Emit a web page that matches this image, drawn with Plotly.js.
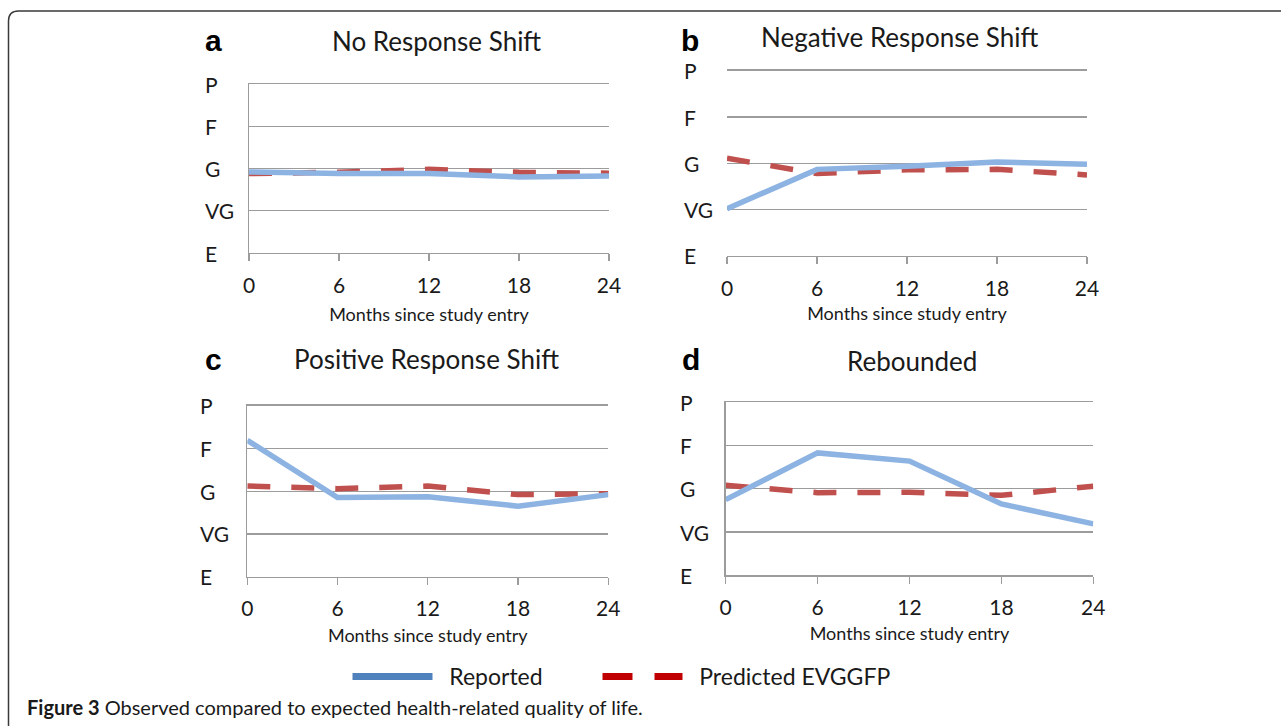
<!DOCTYPE html>
<html><head><meta charset="utf-8">
<script src="https://cdn.plot.ly/plotly-3.0.1.min.js"></script>
<style>html,body{margin:0;padding:0;background:#fff;} #chart{width:1281px;height:726px;}</style>
</head><body><div id="chart"></div>
<script>
// ---- data ----
const months = [0, 6, 12, 18, 24];
const ratingLabels = ['E', 'VG', 'G', 'F', 'P'];
const ratingValues = [1, 2, 3, 4, 5];
const panelTitles = ['No Response Shift', 'Negative Response Shift', 'Positive Response Shift', 'Rebounded'];
const panelLetters = ['a', 'b', 'c', 'd'];
const seriesNames = ['Reported', 'Predicted EVGGFP'];
const reportedA = [2.92, 2.88, 2.88, 2.80, 2.82];
const predictedA = [2.88, 2.91, 2.98, 2.91, 2.89];
const reportedB = [2.02, 2.87, 2.94, 3.03, 2.98];
const predictedB = [3.11, 2.78, 2.86, 2.87, 2.75];
const reportedC = [4.19, 2.85, 2.87, 2.65, 2.92];
const predictedC = [3.12, 3.06, 3.12, 2.92, 2.94];
const reportedD = [2.75, 3.83, 3.64, 2.65, 2.19];
const predictedD = [3.08, 2.91, 2.92, 2.85, 3.06];
const xAxisTitle = 'Months since study entry';
const captionBold = 'Figure 3';
const captionText = ' Observed compared to expected health-related quality of life.';

// ---- layout helpers ----
const W = 1281, H = 726;
const px = v => v / W;
const py = v => 1 - v / H;
const FONT = 'Lato, "Open Sans", sans-serif';
const TXT = '#1a1a1a';
const GRID = '#9c9c9c';

const panels = [
  {rep: reportedA, pred: predictedA, box: [249, 609, 84, 253], showY: true, title: [436.5, 52], letter: [213, 52], ylab: 203, standoff: 12.5},
  {rep: reportedB, pred: predictedB, box: [727, 1087, 70.7, 256], showY: false, title: [899, 48], letter: [690, 51.5], ylab: 682, standoff: 9},
  {rep: reportedC, pred: predictedC, box: [247.3, 608.3, 405.7, 576.7], showY: true, title: [426, 370], letter: [213, 370.5], ylab: 198, standoff: 9.5},
  {rep: reportedD, pred: predictedD, box: [725.7, 1093.3, 402.3, 575.3], showY: true, title: [912, 372], letter: [691, 370.5], ylab: 678, standoff: 9}
];

const legendBase = {
  orientation: 'h', xanchor: 'left', yanchor: 'top', y: py(655),
  font: {family: FONT, size: 23, color: TXT}, itemwidth: 80, bgcolor: 'rgba(0,0,0,0)'
};

const traces = [];
const layout = {
  width: W, height: H,
  margin: {l: 0, r: 0, t: 0, b: 0},
  paper_bgcolor: '#fff', plot_bgcolor: 'rgba(0,0,0,0)',
  font: {family: FONT, color: TXT},
  showlegend: true,
  legend: Object.assign({}, legendBase, {x: px(347.5)}),
  legend2: Object.assign({}, legendBase, {x: px(597.5)}),
  annotations: [],
  shapes: []
};

panels.forEach((p, i) => {
  const n = i === 0 ? '' : String(i + 1);
  const xa = 'x' + n, ya = 'y' + n;
  traces.push({
    x: months, y: p.pred, xaxis: xa, yaxis: ya, mode: 'lines', name: seriesNames[1],
    line: {color: '#c0504d', width: 5.5, dash: '23px,21px'}, showlegend: false, hoverinfo: 'skip'
  });
  traces.push({
    x: months, y: p.rep, xaxis: xa, yaxis: ya, mode: 'lines', name: seriesNames[0],
    line: {color: '#8db3e2', width: 5.5}, showlegend: false, hoverinfo: 'skip'
  });
  layout['xaxis' + n] = {
    domain: [px(p.box[0]), px(p.box[1])], anchor: ya, range: [0, 24],
    tickvals: months, ticktext: months.map(String), ticks: 'outside', ticklen: 7, tickwidth: 1.3,
    tickcolor: GRID, showline: true, mirror: true, linecolor: GRID, linewidth: 1.3, showgrid: false, zeroline: false,
    tickfont: {family: FONT, size: 21, color: TXT}, ticklabelstandoff: 6,
    title: {text: xAxisTitle, font: {family: FONT, size: 18, color: TXT}, standoff: p.standoff},
    fixedrange: true
  };
  layout['yaxis' + n] = {
    domain: [py(p.box[3]), py(p.box[2])], anchor: xa, range: [1, 5],
    tickvals: ratingValues, showticklabels: false, ticks: '', showgrid: true, gridcolor: GRID, gridwidth: 1.3,
    zeroline: false, showline: p.showY, linecolor: GRID, linewidth: 1.3, fixedrange: true
  };
  ratingLabels.forEach((lab, k) => {
    layout.annotations.push({
      text: lab, xref: 'paper', x: px(p.ylab), xanchor: 'left', yref: ya, y: ratingValues[k], yanchor: 'middle',
      showarrow: false, font: {family: FONT, size: 21, color: TXT}
    });
  });
  layout.annotations.push({
    text: panelTitles[i], xref: 'paper', yref: 'paper', x: px(p.title[0]), y: py(p.title[1] - 26 * 0.32 - 2.5),
    xanchor: 'center', yanchor: 'middle', showarrow: false, font: {family: FONT, size: 26, color: TXT}
  });
  layout.annotations.push({
    text: '<b>' + panelLetters[i] + '</b>', xref: 'paper', yref: 'paper', x: px(p.letter[0]), y: py(p.letter[1] - 30 * 0.32 - 1.5),
    xanchor: 'center', yanchor: 'middle', showarrow: false, font: {family: 'Liberation Sans, Arial, sans-serif', size: 30, color: '#000'}
  });
});

// legend entries (legend styling only)
const gap = '&nbsp;&nbsp;';
traces.push({x: [null], y: [null], mode: 'lines', name: gap + seriesNames[0], legend: 'legend',
  line: {color: '#4f81bd', width: 7}, hoverinfo: 'skip'});
traces.push({x: [null], y: [null], mode: 'lines', name: gap + seriesNames[1], legend: 'legend2',
  line: {color: '#c00000', width: 7, dash: '30px,22px'}, hoverinfo: 'skip'});

// caption
layout.annotations.push({
  text: '<b>' + captionBold + '</b>' + captionText, xref: 'paper', yref: 'paper', x: px(25), y: py(713 - 20 * 0.32),
  xanchor: 'left', yanchor: 'middle', showarrow: false, font: {family: FONT, size: 20, color: TXT}
});

// rounded frame
const r = 10;
layout.shapes.push({
  type: 'path', xref: 'paper', yref: 'paper',
  path: `M ${px(8.5)},${py(760)} L ${px(8.5)},${py(11 + r)} Q ${px(8.5)},${py(11)} ${px(8.5 + r)},${py(11)} L ${px(1300)},${py(11)}`,
  line: {color: '#3a3a3a', width: 1.5}
});

Plotly.newPlot('chart', traces, layout, {displayModeBar: false, staticPlot: true});
</script></body></html>
